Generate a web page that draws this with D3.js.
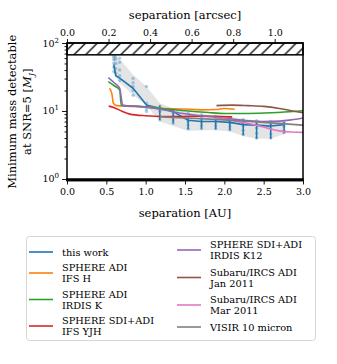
<!DOCTYPE html>
<html>
<head>
<meta charset="utf-8">
<script src="https://cdn.jsdelivr.net/npm/d3@7"></script>
<style>
  body { margin: 0; background: #fff; }
  svg text { font-family: "DejaVu Serif", serif; fill: #000; }
</style>
</head>
<body>
<svg width="337" height="364"></svg>
<script>
// distance of the star in pc: AU -> arcsec
var distPc = 2.64;

// "this work": median curve, error bars, grey range band
var workSep  = [0.595, 0.62, 0.67, 0.84, 1.01, 1.18, 1.35, 1.54, 1.71, 1.89, 2.07, 2.24, 2.41, 2.59, 2.76];
var workMass = [48, 33, 30.5, 21.6, 12.2, 11.0, 9.8, 7.3, 7.0, 7.0, 6.8, 6.3, 6.2, 6.0, 6.3];
var workErrLo = [48, 33, 30.5, 21.6, 12.2, 7.4, 6.6, 5.4, 5.5, 5.4, 5.2, 4.4, 3.9, 3.9, 4.7];
var workErrHi = [48, 33, 30.5, 21.6, 12.2, 12.0, 10.6, 7.9, 7.7, 7.6, 7.4, 6.9, 6.8, 6.6, 6.9];
var bandHi = [63, 61, 58, 34, 23, 13, 11, 9.5, 9.0, 8.6, 8.2, 7.6, 7.3, 7.1, 7.0];
var bandLo = [38, 32, 26, 17, 12, 7.0, 6.0, 5.1, 5.2, 5.2, 5.0, 4.3, 3.9, 3.9, 4.6];
// individual detections [sep, mass]
var workPts = [
  [0.595, 64], [0.595, 60], [0.595, 56], [0.595, 50], [0.595, 44], [0.595, 38],
  [0.62, 63], [0.62, 58], [0.62, 50], [0.62, 42], [0.62, 36],
  [0.67, 60], [0.67, 52], [0.67, 40], [0.67, 33], [0.67, 28],
  [0.84, 30], [0.84, 26], [0.84, 23], [0.84, 20], [0.84, 17],
  [1.01, 23], [1.01, 13], [1.01, 11.5], [1.01, 10.5], [1.01, 9.8],
  [1.18, 11.8], [1.18, 10.8], [1.18, 9.8], [1.18, 8.4], [1.18, 7.4],
  [1.35, 10.4], [1.35, 9.4], [1.35, 8.4], [1.35, 7.4], [1.35, 6.6],
  [1.54, 9.2], [1.54, 8.0], [1.54, 7.0], [1.54, 6.2], [1.54, 5.5],
  [1.71, 8.8], [1.71, 7.8], [1.71, 6.9], [1.71, 6.1], [1.71, 5.5],
  [1.89, 8.4], [1.89, 7.6], [1.89, 6.9], [1.89, 6.1], [1.89, 5.5],
  [2.07, 8.0], [2.07, 7.2], [2.07, 6.6], [2.07, 5.9], [2.07, 5.3],
  [2.24, 7.5], [2.24, 6.8], [2.24, 6.0], [2.24, 5.2], [2.24, 4.5],
  [2.41, 7.2], [2.41, 6.5], [2.41, 5.6], [2.41, 4.7], [2.41, 4.0],
  [2.59, 7.0], [2.59, 6.3], [2.59, 5.5], [2.59, 4.6], [2.59, 4.0],
  [2.76, 7.0], [2.76, 6.5], [2.76, 5.9], [2.76, 5.2], [2.76, 4.8]
];

// other instruments
var ifsHSep   = [0.54, 0.57, 0.59, 0.63, 0.8, 1.0, 1.2, 1.5, 1.7, 1.9, 2.0, 2.13];
var ifsHMass  = [21.6, 18, 13, 12, 11.7, 11.5, 11.0, 10.7, 10.4, 10.5, 10.9, 10.6];
var irdisKSep  = [0.525, 0.6, 0.67, 0.69, 0.8, 1.0, 1.2, 1.5, 1.8, 2.0, 2.3, 2.6, 3.0];
var irdisKMass = [27, 23.5, 20.3, 12.2, 11.9, 11.5, 10.9, 10.1, 9.5, 9.2, 9.2, 9.4, 10.1];
var yjhSep  = [0.53, 0.6, 0.7, 0.8, 1.0, 1.2, 1.4, 1.7, 2.1];
var yjhMass = [11.8, 11.2, 9.9, 9.0, 8.5, 8.3, 8.3, 8.4, 8.2];
var k12Sep  = [0.525, 0.6, 0.67, 0.71, 0.9, 1.1, 1.3, 1.5, 1.7, 1.9, 2.1, 2.3, 2.5, 2.7, 2.85, 3.0];
var k12Mass = [31, 26, 21.5, 12.0, 11.7, 11.0, 10.0, 9.1, 8.5, 8.1, 7.6, 7.2, 7.0, 7.1, 7.4, 7.9];
var janSep  = [1.9, 2.1, 2.3, 2.5, 2.7, 2.85, 3.0];
var janMass = [12.0, 12.2, 12.0, 11.7, 10.9, 10.1, 9.4];
var marSep  = [1.9, 2.0, 2.2, 2.4, 2.55, 2.7, 2.85, 3.0];
var marMass = [7.9, 7.6, 6.9, 6.2, 5.6, 5.1, 4.9, 4.85];
var visirSep  = [1.18, 1.5, 2.0, 2.5, 3.0];
var visirMass = [8.2, 7.9, 7.4, 6.8, 6.2];

var seriesNames = ["this work", "SPHERE ADI\nIFS H", "SPHERE ADI\nIRDIS K", "SPHERE SDI+ADI\nIFS YJH",
                   "SPHERE SDI+ADI\nIRDIS K12", "Subaru/IRCS ADI\nJan 2011", "Subaru/IRCS ADI\nMar 2011", "VISIR 10 micron"];
var colors = ["#1f77b4", "#ff7f0e", "#2ca02c", "#d62728", "#9467bd", "#8c564b", "#e377c2", "#7f7f7f"];

// excluded mass ranges (hatched)
var massMax = 67, massMin = 1;

var xTicks = [0, 0.5, 1, 1.5, 2, 2.5, 3];
var arcTicks = [0, 0.2, 0.4, 0.6, 0.8, 1.0];
var yTicks = [1, 10, 100];

var svg = d3.select("svg");
var pL = 67, pR = 303, pT = 43, pB = 180.5;

var x = d3.scaleLinear().domain([0, 3]).range([pL, pR]);
var xa = d3.scaleLinear().domain([0, 3 / distPc]).range([pL, pR]);
var y = d3.scaleLog().domain([0.95, 100]).range([pB, pT]);

// hatch pattern
var defs = svg.append("defs");
var pat = defs.append("pattern").attr("id", "hatch")
    .attr("patternUnits", "userSpaceOnUse").attr("width", 11.7).attr("height", 11.7);
pat.append("path")
    .attr("d", "M-2,2 L2,-2 M0,11.7 L11.7,0 M9.7,13.7 L13.7,9.7")
    .attr("stroke", "#000").attr("stroke-width", 1.3);
defs.append("clipPath").attr("id", "clip").append("rect")
    .attr("x", pL).attr("y", pT).attr("width", pR - pL).attr("height", pB - pT);

var plot = svg.append("g").attr("clip-path", "url(#clip)");

var line = d3.line().x(function(d) { return x(d[0]); }).y(function(d) { return y(d[1]); });

// grey band of this work
var band = workSep.map(function(s, i) { return [s, bandLo[i], bandHi[i]]; });
plot.append("path")
    .datum(band)
    .attr("fill", "#d8d8d8").attr("opacity", 0.7)
    .attr("d", d3.area().x(function(d) { return x(d[0]); })
        .y0(function(d) { return y(d[1]); }).y1(function(d) { return y(d[2]); }));

// single points
plot.selectAll(".pt")
    .data(workPts)
  .enter().append("circle")
    .attr("class", "pt")
    .attr("cx", function(d) { return x(d[0]); })
    .attr("cy", function(d) { return y(d[1]); })
    .attr("r", 1.7)
    .attr("fill", colors[0]).attr("opacity", 0.35);

// error bars
plot.selectAll(".err")
    .data(workSep.map(function(s, i) { return [s, workErrLo[i], workErrHi[i]]; }))
  .enter().append("line")
    .attr("class", "err")
    .attr("x1", function(d) { return x(d[0]); }).attr("x2", function(d) { return x(d[0]); })
    .attr("y1", function(d) { return y(d[1]); }).attr("y2", function(d) { return y(d[2]); })
    .attr("stroke", colors[0]).attr("stroke-width", 1.5);

// all curves
var curves = [
  [workSep, workMass], [ifsHSep, ifsHMass], [irdisKSep, irdisKMass], [yjhSep, yjhMass],
  [k12Sep, k12Mass], [janSep, janMass], [marSep, marMass], [visirSep, visirMass]
];
curves.forEach(function(c, i) {
  plot.append("path")
      .datum(c[0].map(function(s, j) { return [s, c[1][j]]; }))
      .attr("fill", "none")
      .attr("stroke", colors[i])
      .attr("stroke-width", 1.6)
      .attr("stroke-linejoin", "round")
      .attr("d", line.curve(i > 0 ? d3.curveMonotoneX : d3.curveLinear));
});

// hatched mass limits
svg.append("rect")
    .attr("x", pL).attr("y", pT).attr("width", pR - pL).attr("height", y(massMax) - pT)
    .attr("fill", "url(#hatch)").attr("stroke", "#000").attr("stroke-width", 1.5);
svg.append("rect")
    .attr("x", pL).attr("y", y(massMin)).attr("width", pR - pL).attr("height", pB - y(massMin))
    .attr("fill", "url(#hatch)").attr("stroke", "#000").attr("stroke-width", 1.5);

// axes
var fmt = d3.format(".1f");
var gx = svg.append("g").attr("transform", "translate(0," + pB + ")")
    .call(d3.axisBottom(x).tickValues(xTicks).tickFormat(fmt).tickSize(4).tickPadding(4));
var gt = svg.append("g").attr("transform", "translate(0," + pT + ")")
    .call(d3.axisTop(xa).tickValues(arcTicks).tickFormat(fmt).tickSize(4).tickPadding(3));
var gy = svg.append("g").attr("transform", "translate(" + pL + ",0)")
    .call(d3.axisLeft(y).tickValues(yTicks).tickFormat("").tickSize(5));

// minor log ticks
var minor = [];
[1, 10].forEach(function(b) { for (var k = 2; k < 10; k++) minor.push(b * k); });
svg.append("g").attr("transform", "translate(" + pL + ",0)")
    .call(d3.axisLeft(y).tickValues(minor).tickFormat("").tickSize(2.5))
    .select(".domain").remove();

[gx, gt].forEach(function(g) {
  g.selectAll("text").style("font-size", "9.5px").style("font-family", "DejaVu Serif");
});
svg.selectAll(".domain").remove();
svg.selectAll(".tick line").attr("stroke-width", 0.9);

// y tick labels as 10^n
yTicks.forEach(function(v) {
  var t = svg.append("text")
      .attr("x", pL - 8).attr("y", y(v) + 3.5)
      .attr("text-anchor", "end").style("font-size", "9.5px");
  t.append("tspan").text("10");
  t.append("tspan").attr("dy", -4).style("font-size", "7px").text(Math.round(Math.log10(v)));
});

// frame
svg.append("rect")
    .attr("x", pL).attr("y", pT).attr("width", pR - pL).attr("height", pB - pT)
    .attr("fill", "none").attr("stroke", "#000").attr("stroke-width", 1.5);

// axis labels
svg.append("text").attr("x", (pL + pR) / 2).attr("y", 217)
    .attr("text-anchor", "middle").style("font-size", "11.5px").text("separation [AU]");
svg.append("text").attr("x", (pL + pR) / 2).attr("y", 19)
    .attr("text-anchor", "middle").style("font-size", "11.5px").text("separation [arcsec]");
var yl = svg.append("g").attr("transform", "translate(16," + (pT + pB) / 2 + ") rotate(-90)");
yl.append("text").attr("text-anchor", "middle").style("font-size", "11.5px").text("Minimum mass detectable");
var yl2 = yl.append("text").attr("y", 15).attr("text-anchor", "middle").style("font-size", "11.5px");
yl2.append("tspan").text("at SNR=5 [");
yl2.append("tspan").style("font-style", "italic").text("M");
yl2.append("tspan").attr("dy", 2.5).style("font-size", "8px").style("font-style", "italic").text("J");
yl2.append("tspan").attr("dy", -2.5).text("]");

// legend
var lg = svg.append("g");
lg.append("rect").attr("x", 26.5).attr("y", 236.5).attr("width", 289).attr("height", 104)
    .attr("rx", 3).attr("fill", "#fff").attr("stroke", "#d6d6d6").attr("stroke-width", 1);
var rowsY = [252, 273, 299.5, 326, 250, 277.5, 305, 327];
seriesNames.forEach(function(name, i) {
  var col = i < 4 ? 0 : 1;
  var hx = col === 0 ? 29 : 177;
  var cy = rowsY[i];
  lg.append("line").attr("x1", hx).attr("x2", hx + 24).attr("y1", cy).attr("y2", cy)
      .attr("stroke", colors[i]).attr("stroke-width", 1.6);
  var parts = name.split("\n");
  parts.forEach(function(p, k) {
    var off = (k - (parts.length - 1) / 2) * 11;
    lg.append("text").attr("x", hx + 33).attr("y", cy + off + 3.5)
        .style("font-size", "9.8px").text(p);
  });
});
</script>
</body>
</html>
